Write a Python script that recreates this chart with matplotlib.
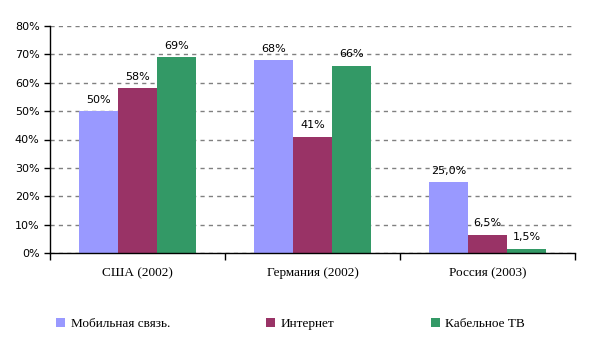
import numpy as np
import matplotlib
matplotlib.use("Agg")
import matplotlib.pyplot as plt
from matplotlib.ticker import MultipleLocator, FuncFormatter

# ---------------- data ----------------
categories = ["США (2002)", "Германия (2002)", "Россия (2003)"]
series_names = ["Мобильная связь.", "Интернет", "Кабельное ТВ"]
mobile = [50, 68, 25.0]
internet = [58, 41, 6.5]
cable = [69, 66, 1.5]
labels_mobile = ["50%", "68%", "25,0%"]
labels_internet = ["58%", "41%", "6,5%"]
labels_cable = ["69%", "66%", "1,5%"]

colors = ["#9999FF", "#993366", "#339966"]

# ---------------- figure ----------------
fig = plt.figure(figsize=(5.91, 3.51), dpi=100)
fig.patch.set_facecolor("white")
ax = fig.add_axes([50 / 591, 1 - 253 / 351, 525 / 591, 227 / 351])

x = np.arange(len(categories))
w = 39 / 175
series = [mobile, internet, cable]
labels = [labels_mobile, labels_internet, labels_cable]
for i, (vals, labs) in enumerate(zip(series, labels)):
    pos = x + (i - 1) * w
    ax.bar(pos, vals, width=w, color=colors[i], label=series_names[i], zorder=2)
    for p, v, t in zip(pos, vals, labs):
        ax.annotate(t, (p, v), xytext=(0, 4.5), textcoords="offset points",
                    ha="center", va="bottom", fontsize=8, family="DejaVu Sans")

ax.set_xlim(-0.5, 2.5)
ax.set_ylim(0, 80)
ax.yaxis.set_major_locator(MultipleLocator(10))
ax.yaxis.set_major_formatter(FuncFormatter(lambda v, _: f"{int(v)}%"))
ax.grid(axis="y", color="#808080", linestyle=(0, (3, 3)), linewidth=1, zorder=0)
ax.set_axisbelow(True)

ax.set_xticks(x)
ax.set_xticklabels(categories, family="Liberation Serif", fontsize=9.5)
ax.tick_params(axis="x", length=0, pad=10)
ax.set_xticks([-0.5, 0.5, 1.5, 2.5], minor=True)
ax.tick_params(axis="x", which="minor", length=5, width=1, direction="out")
ax.tick_params(axis="y", length=4, width=1, direction="out", labelsize=8)
for lab in ax.get_yticklabels():
    lab.set_family("DejaVu Sans")

for s in ["top", "right"]:
    ax.spines[s].set_visible(False)
ax.spines["left"].set_linewidth(1)
ax.spines["bottom"].set_linewidth(1)

handles, lbls = ax.get_legend_handles_labels()
fig.legend(handles, lbls, loc="center left", bbox_to_anchor=(56 / 591, 1 - 324 / 351),
           ncol=3, frameon=False, prop={"family": "Liberation Serif", "size": 9.5},
           handlelength=0.7, handleheight=0.7, handletextpad=0.4,
           columnspacing=7.3, borderpad=0, borderaxespad=0)

fig.savefig("out.png", dpi=100, facecolor="white")
